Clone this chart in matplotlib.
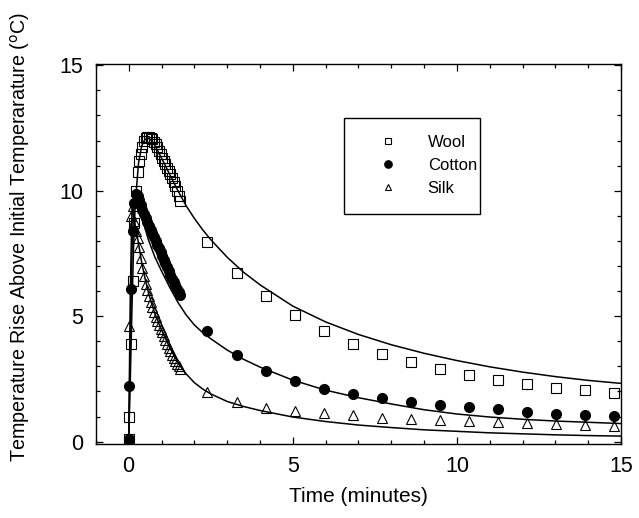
import numpy as np
import matplotlib.pyplot as plt
from matplotlib.patches import Rectangle

plt.rcParams['font.family'] = ['Liberation Sans', 'DejaVu Sans']

# measured times (minutes): dense samples during heating, sparse afterwards
t_fast = [0.00, 0.02, 0.07, 0.12, 0.17, 0.22, 0.27, 0.32, 0.37, 0.42, 0.47,
          0.52, 0.57, 0.62, 0.67, 0.72, 0.77, 0.82, 0.87, 0.92, 0.97, 1.02,
          1.07, 1.12, 1.17, 1.22, 1.27, 1.32, 1.37, 1.42, 1.47, 1.52, 1.57]
t_slow = [2.40, 3.29, 4.17, 5.06, 5.94, 6.83, 7.71, 8.60, 9.48, 10.37,
          11.25, 12.14, 13.02, 13.91, 14.79]

wool_fast = [0.1, 1.0, 3.9, 6.4, 8.7, 10.0, 10.75, 11.2, 11.45, 11.75, 12.0,
             12.1, 12.15, 12.15, 12.1, 12.05, 11.95, 11.85, 11.75, 11.6, 11.45,
             11.3, 11.2, 11.05, 10.9, 10.8, 10.65, 10.5, 10.35, 10.2, 10.0, 9.8, 9.6]
wool_slow = [7.94, 6.74, 5.80, 5.04, 4.41, 3.90, 3.50, 3.17, 2.90, 2.66,
             2.45, 2.29, 2.14, 2.04, 1.95]

cotton_fast = [0.1, 2.2, 6.1, 8.4, 9.5, 9.85, 9.8, 9.65, 9.45, 9.25, 9.08,
               8.92, 8.76, 8.6, 8.45, 8.3, 8.15, 8.0, 7.85, 7.7, 7.55, 7.4,
               7.25, 7.1, 6.95, 6.8, 6.65, 6.5, 6.38, 6.25, 6.1, 5.97, 5.85]
cotton_slow = [4.41, 3.45, 2.80, 2.40, 2.10, 1.89, 1.73, 1.57, 1.45, 1.37,
               1.28, 1.20, 1.12, 1.08, 1.03]

silk_fast = [0.1, 4.6, 9.0, 9.4, 8.8, 8.4, 8.1, 7.75, 7.3, 6.9, 6.6, 6.3,
             6.05, 5.8, 5.55, 5.35, 5.15, 4.95, 4.8, 4.65, 4.5, 4.35, 4.2,
             4.05, 3.9, 3.75, 3.6, 3.45, 3.35, 3.2, 3.1, 3.0, 2.9]
silk_slow = [1.98, 1.57, 1.35, 1.23, 1.15, 1.08, 0.96, 0.91, 0.86, 0.83,
             0.78, 0.74, 0.70, 0.67, 0.64]

# fitted model curves
t_fit = [0, 0.05, 0.1, 0.15, 0.2, 0.3, 0.4, 0.5, 0.6, 0.7, 0.8, 1.0, 1.25,
         1.5, 1.75, 2.0, 2.25, 2.5, 3.0, 3.5, 4.0, 5.0, 6.0, 7.0, 8.0, 9.0,
         10.0, 11.0, 12.0, 13.0, 14.0, 15.0]
wool_fit = [0, 2.5, 5.3, 7.8, 9.5, 11.1, 11.8, 12.05, 12.1, 12.0, 11.8, 11.3,
            10.65, 10.0, 9.4, 8.9, 8.45, 8.05, 7.35, 6.75, 6.25, 5.4, 4.77,
            4.27, 3.86, 3.52, 3.23, 2.98, 2.77, 2.59, 2.44, 2.32]
cotton_fit = [0, 4.0, 7.5, 9.3, 9.8, 9.5, 9.0, 8.5, 8.05, 7.7, 7.35, 6.8,
              6.15, 5.55, 5.05, 4.65, 4.35, 4.1, 3.65, 3.28, 2.97, 2.45, 2.05,
              1.75, 1.5, 1.27, 1.1, 0.98, 0.89, 0.82, 0.77, 0.72]
silk_fit = [0, 6.0, 9.3, 9.1, 8.6, 7.9, 7.1, 6.5, 5.95, 5.5, 5.1, 4.45, 3.75,
            3.15, 2.7, 2.35, 2.1, 1.9, 1.6, 1.4, 1.24, 0.98, 0.8, 0.66, 0.56,
            0.47, 0.41, 0.35, 0.31, 0.27, 0.24, 0.22]

fig = plt.figure(figsize=(6.39, 5.18), dpi=100)
ax = fig.add_axes([0.150, 0.1436, 0.822, 0.7328])

t_all = t_fast + t_slow
ax.plot(t_fit, wool_fit, color='black', lw=1.1)
ax.plot(t_fit, cotton_fit, color='black', lw=1.1)
ax.plot(t_fit, silk_fit, color='black', lw=1.1)

ax.plot(t_all, wool_fast + wool_slow, ls='none', marker='s', ms=6.5,
        mfc='none', mec='black', mew=0.8, label='Wool')
ax.plot(t_all, cotton_fast + cotton_slow, ls='none', marker='o', ms=7,
        mfc='black', mec='black', label='Cotton')
ax.plot(t_all, silk_fast + silk_slow, ls='none', marker='^', ms=6.5,
        mfc='none', mec='black', mew=0.8, label='Silk')

ax.set_xlim(-1, 15)
ax.set_ylim(-0.08, 15.05)
ax.set_xticks([0, 5, 10, 15])
ax.set_yticks([0, 5, 10, 15])
ax.set_xticks(np.arange(-1, 16, 1), minor=True)
ax.set_yticks(np.arange(0, 16, 1), minor=True)
ax.tick_params(which='both', direction='in', top=True, right=True, width=0.9)
ax.tick_params(which='major', length=5, labelsize=15.5)
ax.tick_params(axis='x', which='major', pad=9)
ax.tick_params(axis='y', which='major', pad=9)
ax.tick_params(which='minor', length=3)
for s in ax.spines.values():
    s.set_linewidth(1.0)

ax.set_xlabel('Time (minutes)', fontsize=15, labelpad=7)
ax.set_ylabel('Temperature Rise Above Initial Temperarature ($^{\\mathrm{o}}$C)',
              fontsize=14.2)
ax.yaxis.set_label_coords(-0.122, 0.5456)

# legend box drawn by hand so its size matches
ax.add_patch(Rectangle((0.472, 0.605), 0.259, 0.253, transform=ax.transAxes,
                       fill=False, edgecolor='black', lw=1.0, zorder=5))
leg = ax.legend(loc='upper left', bbox_to_anchor=(0.472, 0.847), fontsize=12,
                frameon=False, markerscale=0.75,
                borderpad=0.75, handlelength=3.78, handletextpad=0.51,
                labelspacing=0.5, borderaxespad=0)

plt.savefig('out.png', dpi=100)
